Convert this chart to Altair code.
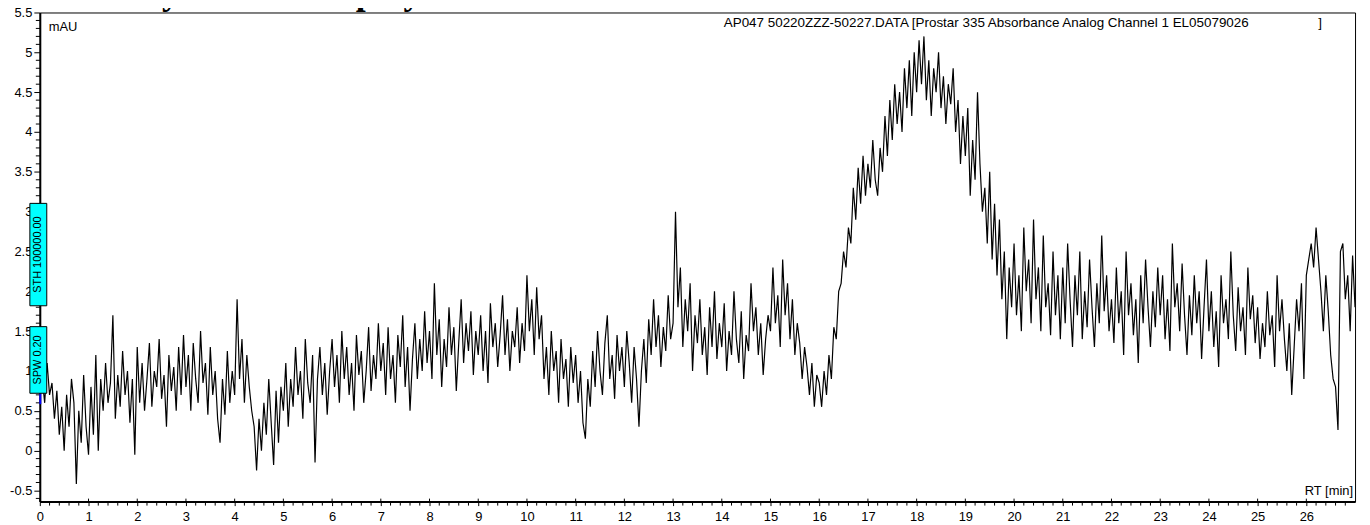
import altair as alt
import pandas as pd

# ---------------- data ----------------
seg00 = [1.15, 0.9, 0.6, 1.1, 0.7, 0.85, 0.4, 0.75, 0.2, 0.55, 0.0, 0.7, 0.3, 0.9, 0.6, -0.42, 0.5, 0.1, 0.95, 0.3]
seg01 = [-0.05, 0.8, 0.2, 1.2, 0.0, 0.9, 0.5, 1.1, 0.6, 0.85, 1.7, 0.4, 0.95, 0.55, 1.25, 0.7, 1.0, 0.35, 0.9, -0.05]
seg02 = [1.3, 0.6, 1.1, 0.5, 0.9, 1.35, 0.55, 1.0, 0.8, 1.4, 0.65, 0.95, 0.3, 1.2, 0.75, 1.05, 0.5, 1.3, 0.7, 1.45]
seg03 = [0.8, 1.2, 0.5, 1.35, 0.9, 0.6, 1.5, 0.85, 1.1, 0.45, 1.3, 0.7, 1.0, 0.4, 0.1, 0.9, 0.45, 1.25, 0.6, 1.0]
seg04 = [0.7, 1.9, 0.9, 1.4, 0.6, 1.2, 0.8, 0.5, 0.3, -0.25, 0.4, 0.0, 0.6, 0.2, 0.9, 0.35, -0.18, 0.75, 0.1, 0.8]
seg05 = [0.5, 1.1, 0.3, 0.9, 0.55, 1.3, 0.7, 1.0, 0.4, 1.4, 0.85, 0.6, 1.2, -0.15, 0.9, 1.3, 0.7, 1.1, 0.45, 1.0]
seg06 = [1.4, 0.8, 1.2, 0.6, 1.5, 0.9, 1.3, 0.7, 1.1, 0.5, 1.45, 0.95, 1.25, 0.6, 1.0, 1.55, 0.75, 1.2, 0.9, 1.6]
seg07 = [1.0, 1.35, 0.7, 1.55, 0.9, 1.2, 0.6, 1.45, 1.05, 1.7, 0.8, 1.3, 0.5, 1.15, 1.6, 0.9, 1.4, 1.0, 1.75, 1.1]
seg08 = [1.5, 0.9, 2.1, 1.2, 1.65, 0.8, 1.4, 1.05, 1.8, 1.2, 1.55, 0.75, 1.35, 1.9, 1.1, 1.6, 1.25, 1.75, 0.95, 1.5]
seg09 = [1.2, 1.7, 1.0, 1.5, 0.85, 1.85, 1.3, 1.6, 1.05, 1.45, 1.95, 1.2, 1.65, 1.0, 1.5, 1.3, 1.8, 1.1, 1.6, 1.25]
seg10 = [2.2, 1.5, 1.9, 1.2, 2.05, 1.4, 1.7, 0.9, 1.3, 0.7, 1.5, 1.0, 1.25, 0.6, 1.4, 0.9, 1.15, 0.55, 1.3, 0.85]
seg11 = [1.2, 0.6, 1.0, 0.35, 0.15, 0.9, 0.55, 1.25, 0.8, 1.5, 1.0, 0.7, 1.35, 1.7, 0.9, 1.2, 0.65, 1.45, 1.0, 1.3]
seg12 = [0.8, 1.5, 1.1, 0.6, 1.3, 0.9, 0.3, 1.0, 1.4, 0.85, 1.65, 1.2, 1.9, 1.3, 1.7, 1.05, 1.55, 1.25, 1.95, 1.4]
seg13 = [1.6, 3.0, 1.8, 2.3, 1.3, 1.9, 1.5, 2.1, 1.0, 1.7, 1.35, 1.9, 1.2, 1.55, 0.95, 1.8, 1.3, 2.0, 1.15, 1.6]
seg14 = [1.3, 1.85, 1.0, 1.5, 1.2, 2.0, 1.4, 1.1, 1.75, 0.9, 1.45, 1.25, 2.1, 1.5, 1.8, 1.2, 1.6, 0.95, 1.4, 1.7]
seg15 = [1.5, 2.3, 1.6, 1.95, 1.3, 2.4, 1.7, 2.1, 1.4, 1.9, 1.2, 1.6, 1.35, 0.9, 1.3, 1.05, 0.7, 1.1, 0.55, 0.95]
seg16 = [0.85, 0.55, 1.0, 0.7, 1.2, 0.9, 1.55, 1.4, 2.0, 2.1, 2.5, 2.3, 2.8, 2.6, 3.3, 2.9, 3.55, 3.1, 3.7, 3.2]
seg17 = [3.6, 3.3, 3.9, 3.4, 3.2, 3.8, 3.5, 4.2, 3.7, 4.4, 3.9, 4.6, 4.1, 4.5, 4.0, 4.8, 4.3, 4.9, 4.2, 5.0]
seg18 = [4.5, 5.15, 4.6, 5.2, 4.4, 4.9, 4.2, 4.8, 4.5, 5.0, 4.3, 4.7, 4.1, 4.6, 4.35, 4.8, 4.0, 4.4, 3.6, 4.2]
seg19 = [3.7, 4.3, 3.2, 3.9, 3.4, 4.5, 3.6, 3.0, 3.3, 2.6, 3.5, 2.4, 3.1, 2.2, 2.9, 1.9, 2.5, 1.4, 2.3, 1.8]
seg20 = [2.6, 1.7, 2.2, 1.5, 2.8, 2.0, 2.4, 1.6, 2.9, 1.9, 2.3, 1.5, 2.7, 1.8, 2.1, 1.45, 2.5, 1.7, 2.2, 1.4]
seg21 = [2.3, 1.6, 2.6, 1.9, 1.3, 2.2, 1.7, 2.5, 1.4, 2.0, 1.55, 2.4, 1.8, 1.3, 2.1, 1.6, 2.7, 1.75, 2.2, 1.5]
seg22 = [1.9, 1.35, 2.3, 1.6, 2.0, 1.2, 2.5, 1.7, 2.1, 1.45, 1.9, 1.1, 2.2, 1.6, 2.4, 1.8, 1.3, 2.0, 1.55, 2.3]
seg23 = [1.7, 2.2, 1.4, 1.9, 1.25, 2.6, 1.8, 2.1, 1.5, 2.35, 1.7, 1.2, 1.95, 1.45, 2.2, 1.6, 2.0, 1.15, 1.8, 2.4]
seg24 = [1.5, 2.0, 1.3, 1.75, 1.05, 2.2, 1.6, 1.9, 1.4, 2.5, 1.7, 1.25, 2.05, 1.5, 1.8, 1.2, 2.3, 1.65, 1.95, 1.35]
seg25 = [1.8, 1.15, 1.6, 1.3, 2.0, 1.45, 1.7, 1.05, 2.2, 1.5, 1.9, 1.4, 1.0, 1.6, 0.7, 1.3, 1.9, 1.5, 2.1, 0.9]
seg26 = [2.2, 2.4, 2.6, 2.3, 2.8, 2.4, 2.0, 1.5, 2.2, 1.75, 1.2, 0.9, 0.8, 0.26, 2.5, 2.6, 1.9, 2.2, 1.5, 2.45]
seg27 = [1.8]

signal = (seg00 + seg01 + seg02 + seg03 + seg04 + seg05 + seg06 + seg07 + seg08 + seg09 +
          seg10 + seg11 + seg12 + seg13 + seg14 + seg15 + seg16 + seg17 + seg18 + seg19 +
          seg20 + seg21 + seg22 + seg23 + seg24 + seg25 + seg26 + seg27)
sample_step_min = 0.05
times = [round(i * sample_step_min, 2) for i in range(len(signal))]

x_major_ticks = list(range(0, 27))
x_minor_ticks = [round(i * 0.2, 1) for i in range(0, 136) if i % 5 != 0]
y_major_ticks = [-0.5, 0, 0.5, 1, 1.5, 2, 2.5, 3, 3.5, 4, 4.5, 5, 5.5]
y_minor_ticks = [round(-0.6 + i * 0.1, 1) for i in range(0, 62) if round((-0.6 + i * 0.1) * 10) % 5 != 0]

title_text = "GPC analysis of the copolymer"
header_text = "AP047 50220ZZZ-50227.DATA [Prostar 335 Absorbance Analog Channel 1 EL05079026"
y_unit = "mAU"
x_unit = "RT [min]"
box_labels = ["STH 100000.00", "SPW 0.20"]

# ---------------- chart ----------------
W, H = 1323, 492
FONT = "Liberation Sans"

df = pd.DataFrame({"t": times, "v": signal})
one = pd.DataFrame({"a": [0]})

xscale = alt.Scale(domain=[0, 27], nice=False, zero=False)
yscale = alt.Scale(domain=[-0.64, 5.5], nice=False, zero=False)
xaxis = alt.Axis(values=x_major_ticks, format="d", title=None, grid=False, tickSize=4,
                 tickColor="black", domainColor="black", domainWidth=2, tickWidth=1,
                 labelFont=FONT, labelFontSize=13, labelColor="black", labelPadding=5,
                 labelFlush=False)
yaxis = alt.Axis(values=y_major_ticks, labelExpr="'' + datum.value", title=None, grid=False,
                 tickSize=6, tickColor="black", domainColor="black", domainWidth=2, tickWidth=1,
                 labelFont=FONT, labelFontSize=13, labelColor="black", labelPadding=2)

line = alt.Chart(df).mark_line(color="black", strokeWidth=1.2, clip=True).encode(
    x=alt.X("t:Q", scale=xscale, axis=xaxis),
    y=alt.Y("v:Q", scale=yscale, axis=yaxis),
)

xminor = alt.Chart(pd.DataFrame({"xm": x_minor_ticks})).mark_rule(color="black", strokeWidth=1).encode(
    x=alt.X("xm:Q", scale=xscale, axis=xaxis), y=alt.value(H), y2=alt.value(H + 4))
xmajor_in = alt.Chart(pd.DataFrame({"xM": x_major_ticks})).mark_rule(color="black", strokeWidth=1).encode(
    x=alt.X("xM:Q", scale=xscale, axis=xaxis), y=alt.value(H - 3), y2=alt.value(H))
yminor = alt.Chart(pd.DataFrame({"ym": y_minor_ticks})).mark_rule(color="black", strokeWidth=1).encode(
    y=alt.Y("ym:Q", scale=yscale, axis=yaxis), x=alt.value(-4), x2=alt.value(1))

def label(text, x, y, align="left", size=13, **kw):
    return alt.Chart(one).mark_text(text=text, align=align, baseline="middle", font=FONT,
                                    fontSize=size, color="black", **kw).encode(
        x=alt.value(x), y=alt.value(y))

t_mau = label(y_unit, 9, 15)
t_rt = label(x_unit, W - 2, 481, align="right")
t_head = label(header_text, 688, 11, size=13.5)
t_brk = label("]", 1286, 11, size=13.5)

title = alt.Chart(one).mark_text(text=title_text, align="left", baseline="alphabetic",
                                 font="Liberation Serif", fontWeight="bold", fontSize=36,
                                 color="black").encode(x=alt.value(-28), y=alt.value(-9))

box1 = alt.Chart(one).mark_rect(fill="#00ffff", stroke="black", strokeWidth=1).encode(
    x=alt.value(-10), x2=alt.value(7), y=alt.value(192), y2=alt.value(295))
box2 = alt.Chart(one).mark_rect(fill="#00ffff", stroke="black", strokeWidth=1).encode(
    x=alt.value(-10), x2=alt.value(7), y=alt.value(316), y2=alt.value(383))
bt1 = alt.Chart(one).mark_text(text=box_labels[0], angle=270, align="center", baseline="middle",
                               font=FONT, fontSize=11, color="black").encode(
    x=alt.value(-1.5), y=alt.value(243.5))
bt2 = alt.Chart(one).mark_text(text=box_labels[1], angle=270, align="center", baseline="middle",
                               font=FONT, fontSize=11, color="black").encode(
    x=alt.value(-1.5), y=alt.value(349.5))
blue = alt.Chart(one).mark_rule(color="#0000ff", strokeWidth=2).encode(
    x=alt.value(0.5), y=alt.value(383), y2=alt.value(394))

chart = alt.layer(line, xminor, xmajor_in, yminor, t_mau, t_rt, t_head, t_brk, title,
                  blue, box1, box2, bt1, bt2).properties(
    width=W, height=H,
    autosize=alt.AutoSizeParams(type="none"),
    padding={"left": 32, "top": 3, "right": 7, "bottom": 22},
).configure_view(stroke="black", strokeWidth=1)

chart.save("out.html", embed_options={"renderer": "svg", "actions": False})
